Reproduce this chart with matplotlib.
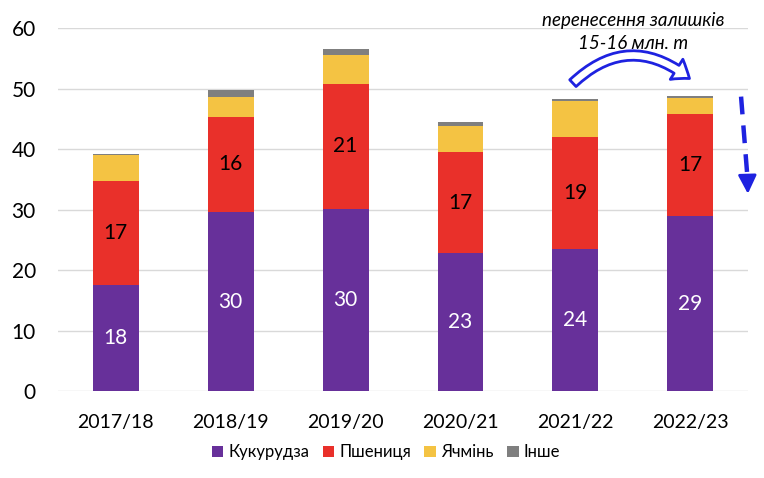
import matplotlib

matplotlib.use("Agg")

import matplotlib.pyplot as plt
import numpy as np
from matplotlib.patches import FancyArrowPatch, Patch

plt.rcParams["font.family"] = ["Lato", "DejaVu Sans"]

seasons = ["2017/18", "2018/19", "2019/20", "2020/21", "2021/22", "2022/23"]
corn = [17.6, 29.7, 30.2, 22.9, 23.5, 29.0]
wheat = [17.2, 15.6, 20.6, 16.6, 18.6, 16.8]
barley = [4.3, 3.4, 4.8, 4.3, 5.8, 2.7]
other = [0.2, 1.1, 1.0, 0.7, 0.4, 0.3]

series_names = ["Кукурудза", "Пшениця", "Ячмінь", "Інше"]
colors = ["#67309A", "#E9302A", "#F4C343", "#7F7F7F"]

y_ticks = [0, 10, 20, 30, 40, 50, 60]

figure = plt.figure(figsize=(7.64, 4.78), dpi=100)
axis = figure.add_axes([0.076, 0.181, 0.903, 0.76])

x_positions = np.arange(len(seasons))
bar_width = 0.4

bottom = np.zeros(len(seasons))
for values, color in zip([corn, wheat, barley, other], colors):
    axis.bar(x_positions, values, width=bar_width, bottom=bottom, color=color, zorder=3)
    bottom = bottom + np.asarray(values)

# value labels on corn (white) and wheat (black)
for x, c, w in zip(x_positions, corn, wheat):
    axis.text(x, c / 2, f"{c:.0f}", ha="center", va="center", color="white", fontsize=15, zorder=4)
    axis.text(x, c + w / 2, f"{w:.0f}", ha="center", va="center", color="black", fontsize=15, zorder=4)

axis.set_xlim(-0.5, len(seasons) - 0.5)
axis.set_ylim(0, 60)
axis.set_yticks(y_ticks)
axis.set_xticks(x_positions)
axis.set_xticklabels(seasons)
axis.tick_params(axis="both", length=0, labelsize=14)
axis.tick_params(axis="x", pad=16)
axis.tick_params(axis="y", pad=16, labelsize=15)
axis.grid(True, axis="y", color="#D9D9D9", linewidth=1.0, zorder=0)
for spine in axis.spines.values():
    spine.set_visible(False)

# annotation: carry-over of stocks
blue = "#1E22E0"
axis.text(4.5, 61.2, "перенесення залишків", ha="center", va="center", fontsize=13.5, style="italic")
axis.text(4.5, 57.4, "15-16 млн. т", ha="center", va="center", fontsize=13.5, style="italic")

curved = FancyArrowPatch(
    (3.96, 50.6),
    (5.01, 51.4),
    connectionstyle="arc3,rad=-0.45",
    arrowstyle="simple,head_width=0.9,head_length=0.6,tail_width=0.35",
    mutation_scale=19,
    facecolor="white",
    edgecolor=blue,
    linewidth=2.0,
    clip_on=False,
    zorder=5,
)
axis.add_patch(curved)

axis.plot([5.44, 5.495], [48.7, 35.5], color=blue, linewidth=3.2, linestyle=(0, (4, 2.5)), clip_on=False, zorder=5)
axis.annotate(
    "",
    xy=(5.5, 32.2),
    xytext=(5.495, 35.5),
    arrowprops=dict(arrowstyle="-|>,head_width=0.4,head_length=0.8", color=blue, lw=2, mutation_scale=14),
    annotation_clip=False,
)

handles = [Patch(facecolor=color, edgecolor="none") for color in colors]
figure.legend(
    handles,
    series_names,
    loc="center",
    bbox_to_anchor=(0.505, 0.054),
    ncol=4,
    frameon=False,
    fontsize=12,
    handlelength=0.7,
    handleheight=0.7,
    handletextpad=0.3,
    columnspacing=0.8,
)

figure.savefig("out.png", dpi=100)
plt.close(figure)
